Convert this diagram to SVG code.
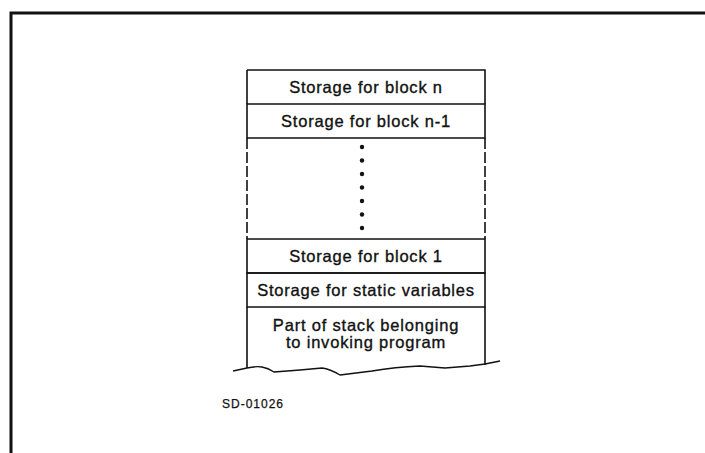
<svg xmlns="http://www.w3.org/2000/svg" width="705" height="453" viewBox="0 0 705 453">
  <style>
    .frame { fill: none; stroke: #111; stroke-width: 3; }
    .box { fill: none; stroke: #111; stroke-width: 1.6; }
    .gap { fill: none; stroke: #111; stroke-width: 1.6; stroke-dasharray: 11 3; }
    .wave { fill: none; stroke: #111; stroke-width: 1.4; stroke-linejoin: round; }
    .lbl { font-family: "Liberation Sans", Arial, sans-serif; font-size: 16.5px; letter-spacing: 0.8px; fill: #111; stroke: #111; stroke-width: 0.35; text-anchor: middle; }
    .tag { font-family: "Liberation Sans", Arial, sans-serif; font-size: 12px; letter-spacing: 1px; fill: #111; stroke: #111; stroke-width: 0.25; }
    .dot { fill: #111; }
  </style>
  <rect width="705" height="453" fill="#fff"/>

  <!-- page frame: top and left rules -->
  <path class="frame" d="M11 453 V13 H705"/>

  <!-- stack cells -->
  <g id="cell-block-n">
    <path class="box" d="M247 70 H485 V104 M247 70 V104"/>
    <text class="lbl" x="366" y="92.5">Storage for block n</text>
  </g>
  <g id="cell-block-n-1">
    <path class="box" d="M247 104 H485 V138 H247 Z"/>
    <text class="lbl" x="366" y="126.5">Storage for block n-1</text>
  </g>
  <g id="cell-ellipsis">
    <path class="gap" d="M247 138 V239 M485 138 V239"/>
    <circle class="dot" cx="362" cy="147" r="2.2"/>
    <circle class="dot" cx="362" cy="160.5" r="2.2"/>
    <circle class="dot" cx="362" cy="174" r="2.2"/>
    <circle class="dot" cx="362" cy="187.5" r="2.2"/>
    <circle class="dot" cx="362" cy="201" r="2.2"/>
    <circle class="dot" cx="362" cy="214.5" r="2.2"/>
    <circle class="dot" cx="362" cy="228" r="2.2"/>
  </g>
  <g id="cell-block-1">
    <path class="box" d="M247 239 H485 V273 H247 Z"/>
    <text class="lbl" x="366" y="261.5">Storage for block 1</text>
  </g>
  <g id="cell-static">
    <path class="box" d="M247 273 H485 V307 H247 Z"/>
    <text class="lbl" x="366" y="295.5">Storage for static variables</text>
  </g>
  <g id="cell-caller">
    <path class="box" d="M247 307 V368 M485 307 V365"/>
    <text class="lbl" x="366" y="331">Part of stack belonging</text>
    <text class="lbl" x="366" y="348">to invoking program</text>
  </g>

  <!-- torn lower edge -->
  <g id="connectors">
    <path class="wave" d="M233 371 L247 368 Q256 366 262 367 Q268 368 274 372 L300 370 L322 368 Q330 369 340 375 L372 371 Q395 367 420 366 L445 368 L470 366 L485 364 L500 361"/>
  </g>

  <text class="tag" x="222" y="408">SD-01026</text>
</svg>
